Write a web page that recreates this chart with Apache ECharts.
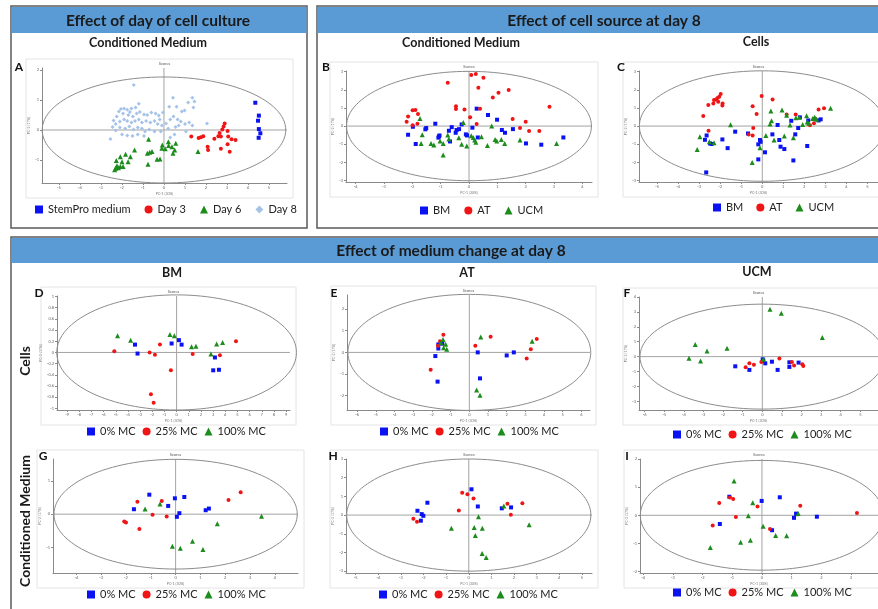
<!DOCTYPE html>
<html>
<head>
<meta charset="utf-8">
<script src="https://cdn.jsdelivr.net/npm/echarts@6/dist/echarts.min.js"></script>
<style>
  html, body { margin: 0; padding: 0; background: #fff; }
  #chart { width: 878px; height: 609px; }
</style>
</head>
<body>
<div id="chart"></div>
<script>
// ---- data (PC1, PC2 scores) ----
const aStemPro = [[4.35,0.91],[4.52,0.48],[4.48,0.31],[4.52,0.03],[4.59,-0.11],[4.51,-0.26]];
const aDay3 = [[1.30,-0.22],[1.65,-0.27],[1.76,-0.24],[1.87,-0.21],[2.08,-0.56],[2.10,-0.67],[2.40,-0.29],
  [2.59,-0.21],[2.65,-0.10],[2.71,-0.22],[2.78,0.02],[2.84,0.12],[2.89,0.22],[2.71,-0.63],[3.03,-0.03],
  [3.06,-0.22],[3.03,-0.48],[3.13,-0.73],[3.22,-0.31],[3.41,-0.33]];
const aDay6 = [[-2.27,-1.02],[-2.24,-1.19],[-2.35,-1.33],[-2.30,-1.28],[-2.17,-1.26],[-2.08,-0.89],[-2.00,-1.06],
  [-2.08,-1.22],[-1.95,-1.22],[-1.83,-0.81],[-1.60,-0.89],[-1.71,-1.06],[-1.40,-0.67],[-0.73,-0.31],[-0.79,-0.78],
  [-0.68,-0.74],[-0.57,-0.72],[-0.76,-1.14],[-0.33,-0.98],[-0.19,-0.97],[-0.10,-0.61],[-0.08,-0.50],[0.06,-0.63],
  [0.22,-0.52],[0.21,-0.39],[0.43,-0.78],[0.51,-0.67],[0.56,-0.44],[1.62,-0.72],[0.38,-0.56]];
const aDay8 = [[-1.44,1.50],[0.43,1.08],[1.35,1.08],[1.45,0.95],[1.15,0.92],[1.40,0.75],[0.98,0.65],[0.85,0.62],
  [0.60,0.78],[0.25,0.78],[-1.20,0.88],[-1.35,0.75],[-1.55,0.72],[-1.62,0.60],[-1.75,0.68],[-1.90,0.72],
  [-2.05,0.70],[-2.15,0.62],[-1.95,0.55],[-1.70,0.50],[-1.48,0.45],[-1.30,0.55],[-1.15,0.60],[-0.95,0.52],
  [-0.80,0.50],[-0.60,0.58],[-0.40,0.55],[-0.25,0.48],[-0.05,0.58],[-0.20,0.35],[-2.25,0.45],[-2.40,0.32],
  [-2.30,0.20],[-2.10,0.28],[-1.90,0.35],[-1.75,0.30],[-1.55,0.25],[-1.38,0.30],[-1.20,0.35],[-1.05,0.25],
  [-0.85,0.30],[-0.65,0.25],[-0.45,0.30],[-0.30,0.20],[-0.10,0.15],[0.10,0.22],[0.30,0.35],[0.45,0.45],
  [0.65,0.35],[0.80,0.28],[1.00,0.20],[1.20,0.25],[1.35,0.15],[2.05,0.22],[0.70,0.15],[0.55,0.10],[0.20,0.05],
  [-2.45,0.10],[-2.30,-0.02],[-2.10,0.08],[-1.85,0.05],[-1.65,0.12],[-1.45,0.02],[-1.25,0.08],[-1.05,0.05],
  [-0.90,-0.05],[-0.70,0.02],[-0.45,-0.05],[-2.00,-0.15],[-1.75,-0.18],[-1.50,-0.20],[-1.25,-0.15],
  [-0.95,-0.20],[-2.55,-0.30],[0.30,-0.25],[0.50,-0.15],[-0.15,-0.05],[1.05,-0.05]];

const bBM = [[-2.15,-0.48],[-1.98,-0.04],[-1.88,-0.99],[-1.54,-0.18],[-1.51,-0.11],[-1.19,0.13],[-1.08,-0.64],
  [-1.06,-0.57],[-1.04,-0.52],[-0.71,-0.26],[-0.67,-0.85],[-0.61,-0.06],[-0.47,-0.37],[-0.44,-0.22],[-0.35,-0.17],
  [-0.26,0.09],[-0.11,-0.46],[-0.07,-0.52],[0.12,-0.09],[0.27,0.96],[0.31,-0.63],[0.67,0.61],[0.99,0.35],
  [1.16,-0.22],[1.27,-0.37],[1.55,-0.17],[2.01,-0.96],[2.55,-1.03],[3.33,-0.63]];
const bAT = [[0.08,2.82],[0.24,2.87],[0.51,2.67],[0.33,2.12],[-0.75,2.39],[1.40,1.99],[1.04,1.84],[0.84,1.58],
  [-0.46,1.10],[-0.46,0.94],[-0.16,0.92],[0.39,0.96],[0.04,0.48],[0.27,0.11],[2.84,1.07],[1.54,0.39],[2.00,0.24],
  [1.80,-0.11],[2.12,-0.28],[2.48,-0.28],[-2.20,0.24],[-2.15,0.53],[-1.99,0.87],[-1.89,0.88],[-1.80,0.66],
  [-1.82,0.13],[-1.99,0.04]];
const bUCM = [[-1.73,0.42],[-1.65,-0.48],[-1.69,-0.96],[-1.34,-0.96],[-1.24,-1.05],[-1.02,-0.83],[-0.91,-1.60],
  [-0.91,-0.96],[-0.75,-0.50],[-0.71,-0.72],[-0.36,-0.64],[-0.26,-1.01],[-0.20,0.20],[-0.08,-1.10],[0.08,-0.53],
  [0.15,-0.63],[0.20,-0.77],[0.24,-0.90],[0.44,-0.59],[0.65,-1.07],[0.80,0.00],[0.92,-0.74],[0.98,-0.83],
  [1.14,-0.74],[1.26,-0.96],[1.80,-0.77],[3.09,-0.96]];

const cBM = [[-2.67,-2.56],[-2.73,-0.76],[-2.65,-0.52],[-2.49,-0.96],[-2.41,-0.99],[-1.90,-0.74],[-1.65,-1.22],
  [-1.29,-0.31],[-0.68,-0.41],[-0.19,-1.01],[-0.11,-0.77],[-0.08,-0.87],[0.13,-1.45],[-0.19,-1.84],[0.48,-0.46],
  [0.73,0.06],[0.81,-0.77],[0.87,-1.14],[1.05,-1.27],[1.38,0.29],[1.48,-1.90],[1.57,-0.46],[1.71,-0.11],
  [1.79,0.48],[2.14,-1.10],[2.19,0.31],[2.68,0.31],[2.78,0.37]];
const cAT = [[-2.81,0.55],[-2.57,1.16],[-2.33,1.25],[-2.30,1.44],[-2.21,1.47],[-2.13,1.55],[-2.05,1.62],
  [-1.98,1.77],[-2.10,1.34],[-1.89,1.25],[-1.90,1.14],[-2.56,-0.26],[-0.46,1.10],[-0.27,0.66],[-0.03,1.66],
  [0.49,1.47],[-0.43,-0.11],[-0.65,-0.46],[-0.46,-0.52],[1.16,0.64],[1.59,0.64],[2.27,0.04],[2.46,0.15],
  [2.68,0.92],[2.94,0.98],[2.51,0.41]];
const cUCM = [[-3.10,-1.29],[-2.97,-0.59],[-2.52,-0.87],[-2.30,-0.92],[-1.51,0.07],[-0.48,-2.01],[-0.11,-1.20],
  [0.17,-0.52],[0.37,0.11],[0.41,0.83],[0.44,0.29],[0.56,-0.77],[0.94,0.88],[1.05,-0.55],[1.16,0.59],[1.32,0.06],
  [1.48,-0.64],[1.60,0.46],[1.76,0.48],[1.92,0.09],[2.11,0.57],[2.14,0.22],[2.21,0.15],[2.40,0.41],[2.49,0.48],
  [2.59,0.37],[3.25,0.98]];

const dMC0 = [[-3.42,0.14],[-3.21,-0.02],[-0.41,0.16],[0.19,0.22],[0.41,0.14],[3.01,-0.32],[3.15,-0.09],[3.48,-0.31]];
const dMC25 = [[-5.12,0.02],[-2.22,0.00],[-1.78,-0.04],[-1.37,0.14],[-0.47,-0.32],[-2.11,-0.75],[-1.89,-0.90],
  [1.32,-0.03],[3.56,-0.05],[4.88,0.20]];
const dMC100 = [[-4.85,0.30],[-3.78,0.22],[-0.55,0.32],[-0.19,0.30],[1.23,0.10],[1.59,0.11],[2.82,-0.03],[3.29,0.15],[3.78,0.18]];

const eMC0 = [[-1.66,0.18],[-1.66,0.37],[-1.45,0.40],[-1.82,-0.17],[-1.70,-1.35],[0.45,0.00],[0.57,-1.20],[2.00,-0.14],[2.38,0.00]];
const eMC25 = [[-1.39,0.82],[-1.57,0.52],[-1.68,0.31],[-2.07,-0.80],[0.32,0.31],[1.14,0.72],[3.07,-0.28],[3.29,0.14],[3.61,0.62]];
const eMC100 = [[-1.41,0.60],[-1.52,0.45],[-1.27,0.38],[-1.38,0.22],[-1.21,0.15],[0.61,0.71],[0.39,-1.74],[0.57,-1.98],[3.36,0.51]];

const fMC0 = [[-1.38,-0.65],[-0.66,-0.89],[0.05,-0.27],[0.15,-0.45],[0.49,-0.34],[0.78,-0.89],[1.38,-0.38],[1.38,-0.69],[1.85,-0.40],[0.02,-0.18]];
const fMC25 = [[-0.85,-0.72],[-0.66,-0.45],[-0.43,-0.54],[-0.05,-0.36],[0.87,-0.13],[1.51,-0.36],[1.62,-0.60],[2.04,-0.51],[2.09,-0.63]];
const fMC100 = [[-3.74,-0.11],[-3.42,0.81],[-3.15,-0.29],[-2.82,0.38],[-1.80,0.56],[0.39,3.18],[0.97,2.91],[3.06,1.28],[0.05,-0.18]];

const gMC0 = [[-1.06,0.59],[-1.68,0.15],[-0.30,0.25],[-0.03,0.48],[0.35,0.52],[0.15,0.03],[0.05,-0.08],[1.21,0.12],[1.34,0.17]];
const gMC25 = [[-1.54,0.38],[-0.56,0.40],[-0.93,-0.02],[-0.36,-0.07],[-2.07,-0.22],[-2.00,-0.25],[-1.46,-0.45],[2.13,0.43],[2.62,0.66]];
const gMC100 = [[-1.23,0.16],[-0.63,0.31],[-0.13,-0.97],[0.19,-1.03],[0.68,-0.82],[1.10,-1.07],[1.68,-0.29],[3.46,-0.06]];

const hMC0 = [[-2.27,0.23],[-2.08,0.05],[-2.01,-0.04],[-2.12,-0.30],[-1.83,0.66],[0.12,1.38],[0.40,0.46],[1.46,0.36],[1.87,0.41]];
const hMC25 = [[-2.45,-0.20],[-2.29,-0.36],[-0.44,0.25],[-0.29,1.20],[-0.06,1.11],[0.21,0.89],[1.71,0.61],[2.37,0.63],[1.86,0.02]];
const hMC100 = [[-0.77,-0.71],[0.24,-0.66],[0.29,-1.09],[0.43,-0.09],[0.60,-0.71],[0.59,-2.05],[0.77,-2.27],[1.55,0.48],[2.67,-0.52]];

const iMC0 = [[-1.42,-0.31],[-1.10,0.66],[-0.01,0.51],[0.60,0.64],[0.34,-0.53],[1.08,-0.09],[1.15,0.06],[1.17,0.04],[1.85,-0.05]];
const iMC25 = [[-1.66,-0.36],[-1.44,0.44],[-1.08,0.63],[-0.97,0.58],[-0.88,-0.06],[-0.15,0.31],[0.27,-0.49],[1.29,0.34],[3.20,0.08]];
const iMC100 = [[-1.74,-1.14],[-0.94,1.22],[-0.72,-0.96],[-0.39,-0.89],[-0.46,-0.02],[-0.31,0.45],[0.04,-0.39],[0.46,-0.72],[0.83,-0.73],[1.22,0.06]];

// Hotelling ellipse half-axes (PC1, PC2)
const aEllipse = [5.8, 1.77];
const bEllipse = [4.32, 3.02];
const cEllipse = [5.85, 3.05];
const dEllipse = [9.85, 1.03];
const eEllipse = [6.5, 2.68];
const fEllipse = [6.24, 3.52];
const gEllipse = [4.9, 1.66];
const hEllipse = [5.4, 3.0];
const iEllipse = [4.1, 1.95];

// tick labels
const aXTicks = [-5, -4, -3, -2, -1, 0, 1, 2, 3, 4, 5];
const aYTicks = [-1, 0, 1, 2];
const bXTicks = [-4, -3, -2, -1, 0, 1, 2, 3, 4];
const bYTicks = [-3, -2, -1, 0, 1, 2, 3];
const cXTicks = [-5, -4, -3, -2, -1, 0, 1, 2, 3, 4, 5];
const cYTicks = [-3, -2, -1, 0, 1, 2, 3];
const dXTicks = [-9, -8, -7, -6, -5, -4, -3, -2, -1, 0, 1, 2, 3, 4, 5, 6, 7, 8, 9];
const dYTicks = [-1, -0.8, -0.6, -0.4, -0.2, 0, 0.2, 0.4, 0.6, 0.8, 1];
const eXTicks = [-6, -5, -4, -3, -2, -1, 0, 1, 2, 3, 4, 5, 6];
const eYTicks = [-2, -1, 0, 1, 2];
const fXTicks = [-6, -5, -4, -3, -2, -1, 0, 1, 2, 3, 4, 5];
const fYTicks = [-3, -2, -1, 0, 1, 2, 3, 4];
const gXTicks = [-4, -3, -2, -1, 0, 1, 2, 3, 4];
const gYTicks = [-1, 0, 1];
const hXTicks = [-5, -4, -3, -2, -1, 0, 1, 2, 3, 4, 5];
const hYTicks = [-3, -2, -1, 0, 1, 2, 3];
const iXTicks = [-4, -3, -2, -1, 0, 1, 2, 3];
const iYTicks = [-2, -1, 0, 1, 2];

const sourceNames = ['BM', 'AT', 'UCM'];
const mcNames = ['0% MC', '25% MC', '100% MC'];
const dayNames = ['StemPro medium', 'Day 3', 'Day 6', 'Day 8'];

// ---- styles ----
const FONT = 'Lato, "Open Sans", sans-serif';
const BLUE = '#0a12f2';
const RED = '#f01414';
const GREEN = '#1c8c1c';
const LIGHT = '#a5c3e8';
const HEAD = '#5b9bd5';

const myChart = echarts.init(document.getElementById('chart'));

// layout of each score plot
const panels = [
  { letter: ['A', 19, 67], grid: [42, 68, 245, 115], x: [-5.81, 5.86], y: [-1.77, 2.07], xt: aXTicks, yt: aYTicks, ell: aEllipse,
    series: [[dayNames[0], aStemPro, 'rect', BLUE], [dayNames[1], aDay3, 'circle', RED],
             [dayNames[2], aDay6, 'triangle', GREEN], [dayNames[3], aDay8, 'diamond', LIGHT]],
    legend: [35, 210, 14] },
  { letter: ['B', 326, 67], grid: [346, 71, 246, 111], x: [-4.34, 4.34], y: [-3.09, 3.04], xt: bXTicks, yt: bYTicks, ell: bEllipse,
    series: [[sourceNames[0], bBM, 'rect', BLUE], [sourceNames[1], bAT, 'circle', RED], [sourceNames[2], bUCM, 'triangle', GREEN]],
    legend: [420, 211, 14] },
  { letter: ['C', 621, 67], grid: [639, 71, 239, 111], x: [-5.87, 5.51], y: [-3.09, 3.04], xt: cXTicks, yt: cYTicks, ell: cEllipse,
    series: [[sourceNames[0], cBM, 'rect', BLUE], [sourceNames[1], cAT, 'circle', RED], [sourceNames[2], cUCM, 'triangle', GREEN]],
    legend: [713, 208, 13] },
  { letter: ['D', 39, 293], grid: [57, 296, 233, 114], x: [-9.83, 9.32], y: [-1.03, 1.01], xt: dXTicks, yt: dYTicks, ell: dEllipse,
    series: [[mcNames[0], dMC0, 'rect', BLUE], [mcNames[1], dMC25, 'circle', RED], [mcNames[2], dMC100, 'triangle', GREEN]],
    legend: [87, 432, 7] },
  { letter: ['E', 334, 293], grid: [347, 295, 243, 115], x: [-6.55, 6.46], y: [-2.66, 2.65], xt: eXTicks, yt: eYTicks, ell: eEllipse,
    series: [[mcNames[0], eMC0, 'rect', BLUE], [mcNames[1], eMC25, 'circle', RED], [mcNames[2], eMC100, 'triangle', GREEN]],
    legend: [380, 432, 7] },
  { letter: ['F', 627, 293], grid: [639, 297, 239, 113], x: [-6.29, 5.9], y: [-3.58, 4.0], xt: fXTicks, yt: fYTicks, ell: fEllipse,
    series: [[mcNames[0], fMC0, 'rect', BLUE], [mcNames[1], fMC25, 'circle', RED], [mcNames[2], fMC100, 'triangle', GREEN]],
    legend: [673, 435, 7] },
  { letter: ['G', 43, 456], grid: [53, 459, 245, 114], x: [-4.94, 4.93], y: [-1.78, 1.67], xt: gXTicks, yt: gYTicks, ell: gEllipse,
    series: [[mcNames[0], gMC0, 'rect', BLUE], [mcNames[1], gMC25, 'circle', RED], [mcNames[2], gMC100, 'triangle', GREEN]],
    legend: [87, 595, 7] },
  { letter: ['H', 333, 456], grid: [346, 459, 246, 114], x: [-5.43, 5.45], y: [-3.1, 3.0], xt: hXTicks, yt: hYTicks, ell: hEllipse,
    series: [[mcNames[0], hMC0, 'rect', BLUE], [mcNames[1], hMC25, 'circle', RED], [mcNames[2], hMC100, 'triangle', GREEN]],
    legend: [379, 595, 7] },
  { letter: ['I', 627, 456], grid: [640, 459, 238, 114], x: [-4.11, 3.91], y: [-2.05, 2.0], xt: iXTicks, yt: iYTicks, ell: iEllipse,
    series: [[mcNames[0], iMC0, 'rect', BLUE], [mcNames[1], iMC25, 'circle', RED], [mcNames[2], iMC100, 'triangle', GREEN]],
    legend: [673, 593, 7] },
];

// ellipse + zero cross lines
function renderEllipse(params, api) {
  const cs = params.coordSys;
  const c = api.coord([0, 0]);
  const s = api.size([api.value(0), api.value(1)]);
  const grey = { stroke: '#a3a3a3', lineWidth: 1, fill: null };
  return {
    type: 'group',
    silent: true,
    children: [
      { type: 'line', shape: { x1: cs.x, y1: c[1], x2: cs.x + cs.width, y2: c[1] }, style: grey },
      { type: 'line', shape: { x1: c[0], y1: cs.y, x2: c[0], y2: cs.y + cs.height }, style: grey },
      { type: 'ellipse', shape: { cx: c[0], cy: c[1], rx: s[0], ry: s[1] },
        style: { stroke: '#8c8c8c', lineWidth: 1, fill: null } },
    ],
  };
}

const grids = [], xAxes = [], yAxes = [], series = [], legends = [], graphics = [];

// boxes and headers
graphics.push(
  { type: 'rect', shape: { x: 11, y: 6, width: 296, height: 222 }, style: { fill: null, stroke: '#5a5a5a', lineWidth: 1.5 } },
  { type: 'rect', shape: { x: 11.5, y: 7, width: 295, height: 26 }, style: { fill: HEAD } },
  { type: 'rect', shape: { x: 317, y: 6, width: 570, height: 222 }, style: { fill: null, stroke: '#5a5a5a', lineWidth: 1.5 } },
  { type: 'rect', shape: { x: 317.5, y: 7, width: 570, height: 26 }, style: { fill: HEAD } },
  { type: 'rect', shape: { x: 11, y: 237, width: 880, height: 380 }, style: { fill: null, stroke: '#5a5a5a', lineWidth: 1.5 } },
  { type: 'rect', shape: { x: 11.5, y: 238, width: 880, height: 25 }, style: { fill: HEAD } }
);

const texts = [
  ['Effect of day of cell culture', 158, 21, 15.5],
  ['Effect of cell source at day 8', 604, 21, 15.5],
  ['Effect of medium change at day 8', 451, 251, 15.5],
  ['Conditioned Medium', 148, 43, 12.5],
  ['Conditioned Medium', 461, 43, 12.5],
  ['Cells', 756, 42, 12.5],
  ['BM', 172, 273, 12.5],
  ['AT', 467, 273, 12.5],
  ['UCM', 757, 272, 12.5],
];
texts.forEach(([t, x, y, fs]) => {
  graphics.push({ type: 'text', x: x, y: y,
    style: { text: t, x: 0, y: 0, align: 'center', verticalAlign: 'middle',
      font: `bold ${fs}px ${FONT}`, fill: '#1a1a1a' } });
});
[['Cells', 25, 361], ['Conditioned Medium', 25, 521]].forEach(([t, x, y]) => {
  graphics.push({ type: 'text', x: x, y: y, rotation: Math.PI / 2,
    style: { text: t, align: 'center', verticalAlign: 'middle', font: `bold 14px ${FONT}`, fill: '#1a1a1a' } });
});

panels.forEach((p, i) => {
  const [left, top, width, height] = p.grid;
  grids.push({ left: left, top: top, width: width, height: height, containLabel: false });

  // faint frame around each plot
  graphics.push({ type: 'rect', shape: { x: left - 16, y: top - 9, width: width + 22, height: height + 24 },
    style: { fill: null, stroke: '#e4e4e4', lineWidth: 1 }, z: -1 });
  // panel letter + plot title
  const [letter, lx0, ly0] = p.letter;
  graphics.push({ type: 'text', x: lx0, y: ly0,
    style: { text: letter, align: 'center', verticalAlign: 'middle', font: `bold 12px ${FONT}`, fill: '#111' } });
  graphics.push({ type: 'text', x: left + width / 2, y: top - 4,
    style: { text: 'Scores', align: 'center', verticalAlign: 'middle', font: `4px ${FONT}`, fill: '#555' } });

  xAxes.push({
    gridIndex: i, type: 'value', min: p.x[0], max: p.x[1],
    axisLine: { show: true, onZero: false, lineStyle: { color: '#8a8a8a', width: 1 } },
    axisTick: { show: true, length: 2, customValues: p.xt, lineStyle: { color: '#8a8a8a' } },
    axisLabel: { customValues: p.xt, fontSize: 4, color: '#666', margin: 3, fontFamily: FONT },
    splitLine: { show: false },
    name: 'PC-1 (30%)', nameLocation: 'middle', nameGap: 9,
    nameTextStyle: { fontSize: 3.5, color: '#777', fontFamily: FONT },
  });
  yAxes.push({
    gridIndex: i, type: 'value', min: p.y[0], max: p.y[1],
    axisLine: { show: true, onZero: false, lineStyle: { color: '#8a8a8a', width: 1 } },
    axisTick: { show: true, length: 2, customValues: p.yt, lineStyle: { color: '#8a8a8a' } },
    axisLabel: { customValues: p.yt, fontSize: 4, color: '#666', margin: 3, fontFamily: FONT },
    splitLine: { show: false },
    name: 'PC-2 (17%)', nameLocation: 'middle', nameGap: 11,
    nameTextStyle: { fontSize: 3.5, color: '#777', fontFamily: FONT },
  });

  series.push({
    type: 'custom', xAxisIndex: i, yAxisIndex: i, z: 1, silent: true,
    renderItem: renderEllipse, data: [p.ell],
  });
  p.series.forEach(([name, data, symbol, color]) => {
    series.push({
      name: name, type: 'scatter', xAxisIndex: i, yAxisIndex: i,
      data: data, symbol: symbol, symbolSize: symbol === 'triangle' ? 5 : 4,
      itemStyle: { color: color, opacity: 1 }, z: 3,
    });
  });

  const [lx, ly, gap] = p.legend;
  legends.push({
    data: p.series.map(s => s[0]), left: lx, top: ly - 6, orient: 'horizontal',
    itemWidth: 8, itemHeight: 8, itemGap: gap, padding: 0, selectedMode: false,
    textStyle: { fontSize: 11, fontFamily: FONT, color: '#222' },
  });
});

myChart.setOption({
  backgroundColor: '#fff',
  animation: false,
  grid: grids,
  xAxis: xAxes,
  yAxis: yAxes,
  legend: legends,
  graphic: { elements: graphics },
  series: series,
});
</script>
</body>
</html>
